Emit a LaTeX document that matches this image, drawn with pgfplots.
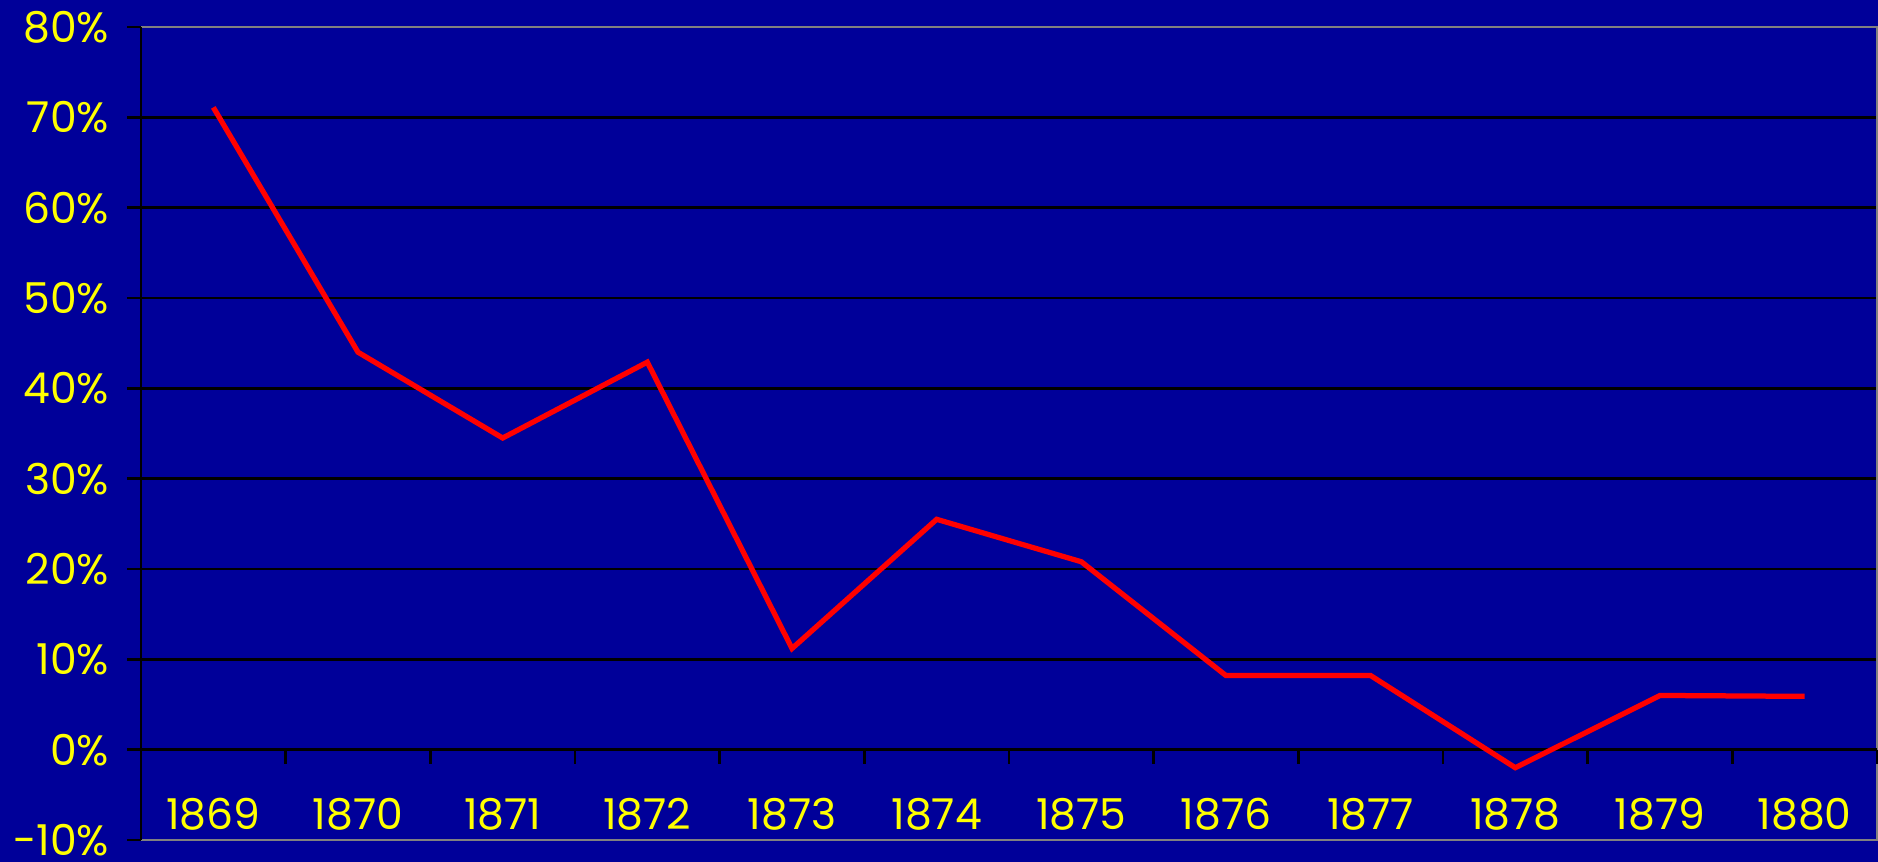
\documentclass[border=0pt]{standalone}
\usepackage{fontspec}
\setmainfont{Poppins}
\usepackage{pgfplots}
\pgfplotsset{compat=1.18}
\definecolor{bg}{RGB}{0,0,153}
\definecolor{ylw}{RGB}{255,255,0}
\definecolor{frm}{RGB}{128,128,128}
\begin{document}
\begin{tikzpicture}
\useasboundingbox (0,0) rectangle (751.2pt,344.8pt);
\fill[bg] (0,0) rectangle (751.2pt,344.8pt);
\begin{axis}[
  at={(56.4pt,8.8pt)}, anchor=south west,
  scale only axis, width=694.4pt, height=325.2pt,
  xmin=0.5, xmax=12.5, ymin=-10, ymax=80,
  axis line style={draw=none},
  xtick={1,2,3,4,5,6,7,8,9,10,11,12},
  xticklabels={1869,1870,1871,1872,1873,1874,1875,1876,1877,1878,1879,1880},
  xtick style={draw=none},
  ytick={-10,0,10,20,30,40,50,60,70,80},
  yticklabels={-10\%,0\%,10\%,20\%,30\%,40\%,50\%,60\%,70\%,80\%},
  ytick style={draw=black, line width=1.1pt},
  tick align=outside, major tick length=5.6pt,
  ymajorgrids, grid style={black, line width=1.1pt},
  tick label style={font=\fontsize{17}{20}\selectfont, text=ylw},
  yticklabel style={inner sep=0pt, anchor=east, xshift=-7pt},
  xticklabel style={inner sep=0pt, anchor=center, yshift=16pt},
  clip=false,
]
\draw[frm, line width=1pt] (rel axis cs:0,1) -- (rel axis cs:1,1) -- (rel axis cs:1,0) -- (rel axis cs:0,0);
\draw[black, line width=1.1pt] (rel axis cs:0,0) -- (rel axis cs:0,1);
\draw[black, line width=1.1pt] (axis cs:0.5,0) -- (axis cs:12.5,0);
\pgfplotsinvokeforeach{1.5,2.5,3.5,4.5,5.5,6.5,7.5,8.5,9.5,10.5,11.5,12.5}{
  \draw[black, line width=1.1pt] (axis cs:#1,0) -- ([yshift=-5.6pt]axis cs:#1,0);
}
\addplot[red, line width=2.1pt, line join=miter, mark=none] coordinates {
  (1,71.1) (2,44.0) (3,34.5) (4,42.9) (5,11.2) (6,25.5)
  (7,20.8) (8,8.2) (9,8.2) (10,-2.0) (11,6.0) (12,5.9)
};
\end{axis}
\end{tikzpicture}
\end{document}
